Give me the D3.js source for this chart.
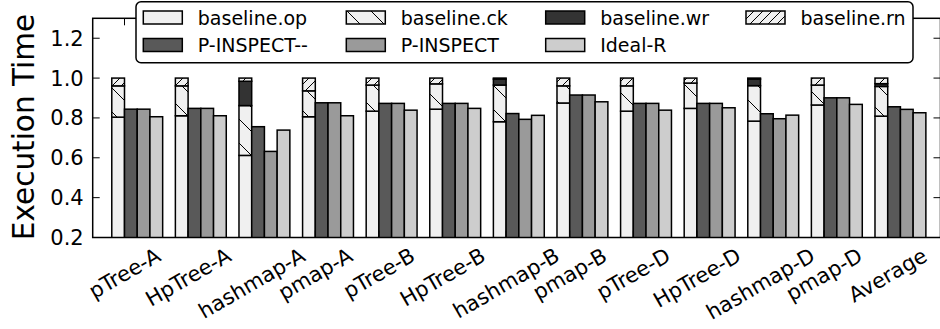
<!DOCTYPE html>
<html>
<head>
<meta charset="utf-8">
<script src="https://cdn.jsdelivr.net/npm/d3@7"></script>
<style>
  body { margin: 0; background: #fff; }
  text { font-family: "DejaVu Sans", sans-serif; fill: #000; }
</style>
</head>
<body>
<div id="chart"></div>
<script>
// workloads on the x axis
const categories = ["pTree-A", "HpTree-A", "hashmap-A", "pmap-A", "pTree-B", "HpTree-B",
  "hashmap-B", "pmap-B", "pTree-D", "HpTree-D", "hashmap-D", "pmap-D", "Average"];

// baseline is a stack: op, ck, wr, rn (segment sizes, sum ~1.0)
const baselineOp = [0.804, 0.811, 0.612, 0.806, 0.834, 0.844, 0.781, 0.875, 0.834, 0.848, 0.784, 0.865, 0.809];
const baselineCk = [0.157, 0.150, 0.250, 0.130, 0.131, 0.127, 0.184, 0.086, 0.127, 0.127, 0.178, 0.100, 0.149];
const baselineWr = [0, 0, 0.122, 0, 0, 0, 0.030, 0, 0, 0, 0.033, 0, 0.014];
const baselineRn = [0.039, 0.039, 0.016, 0.064, 0.035, 0.029, 0.005, 0.039, 0.039, 0.025, 0.005, 0.035, 0.028];

const pInspectMinus = [0.844, 0.848, 0.756, 0.876, 0.873, 0.873, 0.822, 0.915, 0.873, 0.873, 0.821, 0.901, 0.856];
const pInspect = [0.844, 0.848, 0.632, 0.876, 0.873, 0.873, 0.793, 0.915, 0.873, 0.873, 0.796, 0.901, 0.843];
const idealR = [0.806, 0.811, 0.739, 0.811, 0.839, 0.848, 0.813, 0.881, 0.839, 0.851, 0.814, 0.868, 0.826];

const yTicks = [0.2, 0.4, 0.6, 0.8, 1.0, 1.2];

const W = 940, H = 329;
const plot = {left: 92.7, right: 940.5, top: 18.3, bottom: 237.5};

const svg = d3.select("#chart").append("svg")
  .attr("width", W).attr("height", H);

const defs = svg.append("defs");
// hatch '\' for ck (sparse), '/' for rn (denser)
const ckPat = defs.append("pattern").attr("id", "hatchCk")
  .attr("patternUnits", "userSpaceOnUse").attr("width", 24).attr("height", 24);
ckPat.append("rect").attr("width", 24).attr("height", 24).attr("fill", "#f0f0f0");
ckPat.append("path").attr("d", "M0,0 L24,24 M-12,12 L12,36 M12,-12 L36,12")
  .attr("stroke", "#000").attr("stroke-width", 1);
const rnPat = defs.append("pattern").attr("id", "hatchRn")
  .attr("patternUnits", "userSpaceOnUse").attr("width", 9).attr("height", 9);
rnPat.append("rect").attr("width", 9).attr("height", 9).attr("fill", "#f0f0f0");
rnPat.append("path").attr("d", "M0,9 L9,0 M-4.5,4.5 L4.5,-4.5 M4.5,13.5 L13.5,4.5")
  .attr("stroke", "#000").attr("stroke-width", 1);

defs.append("clipPath").attr("id", "plotClip").append("rect")
  .attr("x", plot.left).attr("y", plot.top)
  .attr("width", plot.right - plot.left).attr("height", plot.bottom - plot.top);

const x = d3.scaleLinear().domain([-0.5, 12.83]).range([plot.left, plot.right]);
const y = d3.scaleLinear().domain([0.2, 1.3]).range([plot.bottom, plot.top]);
const bw = 0.2;

const series = {
  op: {fill: "#f0f0f0", label: "baseline.op"},
  ck: {fill: "url(#hatchCk)", label: "baseline.ck"},
  wr: {fill: "#333333", label: "baseline.wr"},
  rn: {fill: "url(#hatchRn)", label: "baseline.rn"},
  pim: {fill: "#595959", label: "P-INSPECT--"},
  pi: {fill: "#9a9a9a", label: "P-INSPECT"},
  ideal: {fill: "#cdcdcd", label: "Ideal-R"}
};

// build stacked segments for the baseline bar
const segs = [];
categories.forEach((c, i) => {
  let acc = 0;
  [["op", baselineOp], ["ck", baselineCk], ["wr", baselineWr], ["rn", baselineRn]].forEach(([k, arr]) => {
    const v = arr[i];
    if (v > 0) segs.push({i: i, key: k, y0: acc, y1: acc + v});
    acc += v;
  });
});
const solo = [];
categories.forEach((c, i) => {
  solo.push({i: i, key: "pim", off: 0, v: pInspectMinus[i]});
  solo.push({i: i, key: "pi", off: 1, v: pInspect[i]});
  solo.push({i: i, key: "ideal", off: 2, v: idealR[i]});
});

const bars = svg.append("g").attr("clip-path", "url(#plotClip)");

bars.selectAll(".seg").data(segs).enter().append("rect")
  .attr("class", "seg")
  .attr("x", d => x(d.i - bw))
  .attr("width", d => x(d.i) - x(d.i - bw))
  .attr("y", d => y(d.y1))
  .attr("height", d => y(d.y0) - y(d.y1))
  .attr("fill", d => series[d.key].fill)
  .attr("stroke", "#000").attr("stroke-width", 1.5);

bars.selectAll(".solo").data(solo).enter().append("rect")
  .attr("class", "solo")
  .attr("x", d => x(d.i + d.off * bw))
  .attr("width", d => x(d.i + (d.off + 1) * bw) - x(d.i + d.off * bw))
  .attr("y", d => y(d.v))
  .attr("height", d => y(0) - y(d.v))
  .attr("fill", d => series[d.key].fill)
  .attr("stroke", "#000").attr("stroke-width", 1.5);

// frame + inward ticks
const axisG = svg.append("g");
axisG.append("rect")
  .attr("x", plot.left).attr("y", plot.top)
  .attr("width", plot.right - plot.left).attr("height", plot.bottom - plot.top)
  .attr("fill", "none").attr("stroke", "#000").attr("stroke-width", 1.5);

yTicks.forEach(t => {
  axisG.append("line").attr("x1", plot.left).attr("x2", plot.left + 7)
    .attr("y1", y(t)).attr("y2", y(t)).attr("stroke", "#000").attr("stroke-width", 1);
  axisG.append("line").attr("x1", plot.right - 7).attr("x2", plot.right)
    .attr("y1", y(t)).attr("y2", y(t)).attr("stroke", "#000").attr("stroke-width", 1);
  axisG.append("text").attr("x", plot.left - 9).attr("y", y(t))
    .attr("dy", "0.36em").attr("text-anchor", "end")
    .style("font-size", "21px").text(t.toFixed(1));
});

categories.forEach((c, i) => {
  axisG.append("line").attr("x1", x(i)).attr("x2", x(i))
    .attr("y1", plot.top).attr("y2", plot.top + 7).attr("stroke", "#000").attr("stroke-width", 1);
  axisG.append("line").attr("x1", x(i)).attr("x2", x(i))
    .attr("y1", plot.bottom - 7).attr("y2", plot.bottom).attr("stroke", "#000").attr("stroke-width", 1);
});

// rotated x labels, centred like matplotlib (rotated bbox centred on tick)
const fsX = 21;
const ang = 30 * Math.PI / 180;
categories.forEach((c, i) => {
  const t = axisG.append("text")
    .attr("text-anchor", "middle").attr("dy", "0.35em")
    .style("font-size", fsX + "px").text(c);
  const w = t.node().getComputedTextLength();
  const h = 1.16 * fsX;
  const halfH = (w * Math.sin(ang) + h * Math.cos(ang)) / 2;
  const cx = x(i), cy = 243 + halfH;
  t.attr("x", cx).attr("y", cy).attr("transform", `rotate(-30,${cx},${cy})`);
});

svg.append("text")
  .attr("transform", "translate(33.5,127) rotate(-90)")
  .attr("text-anchor", "middle")
  .style("font-size", "29.5px").text("Execution Time");

// legend
const lg = svg.append("g");
lg.append("rect").attr("x", 136).attr("y", 1.7).attr("width", 777).attr("height", 61)
  .attr("rx", 5).attr("fill", "#fff").attr("stroke", "#000").attr("stroke-width", 1.5);
const legendKeys = ["op", "pim", "ck", "pi", "wr", "ideal", "rn"];
const colX = [143.3, 346.3, 545.7, 746];
const rowY = [11, 38.5];
legendKeys.forEach((k, j) => {
  const col = Math.floor(j / 2), row = j % 2;
  const gx = colX[col], gy = rowY[row];
  lg.append("rect").attr("x", gx).attr("y", gy).attr("width", 39).attr("height", 13)
    .attr("fill", series[k].fill).attr("stroke", "#000").attr("stroke-width", 1.5);
  lg.append("text").attr("x", gx + 54.5).attr("y", gy + 13.5)
    .style("font-size", "19px").text(series[k].label);
});
</script>
</body>
</html>
